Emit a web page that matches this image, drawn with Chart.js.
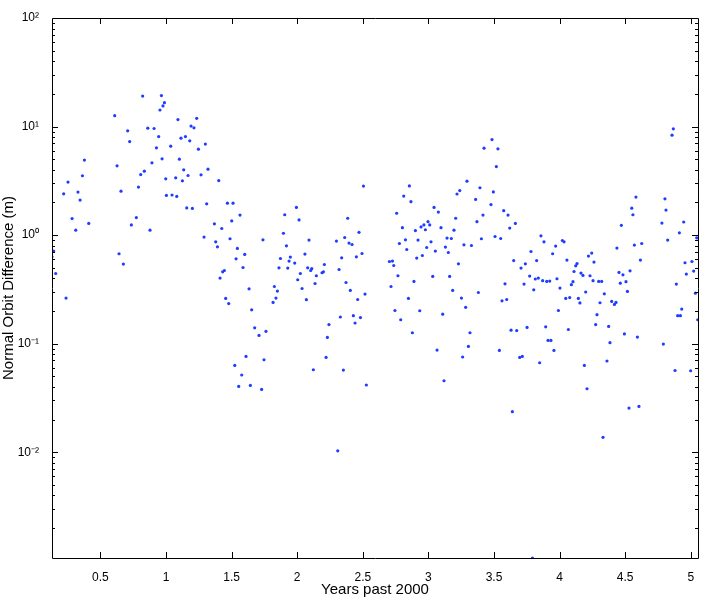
<!DOCTYPE html>
<html>
<head>
<meta charset="utf-8">
<script src="https://cdn.jsdelivr.net/npm/chart.js@4.4.1/dist/chart.umd.min.js"></script>
<style>
  html, body { margin: 0; padding: 0; background: #fff; }
  #orbitChart { display: block; }
</style>
</head>
<body>
<canvas id="orbitChart" width="708" height="599"></canvas>
<script>
// Orbit differences (years past 2000, metres)
const years = [
  0.822, 0.609, 0.708, 0.861, 0.909, 0.723, 0.378, 0.627, 0.893, 0.835,
  0.807, 0.253, 0.363, 0.790, 0.220, 0.329, 0.657, 0.345, 0.774, 0.284,
  0.411, 0.312, 0.736, 0.878, 0.144, 0.131, 0.642, 0.675, 0.159, 0.238,
  0.965, 0.988, 0.977, 0.954, 1.091, 1.234, 1.191, 1.213, 0.944, 1.148,
  1.114, 1.181, 1.300, 1.036, 0.927, 1.247, 0.970, 1.102, 1.320, 1.135,
  1.267, 1.168, 0.998, 1.074, 1.125, 1.402, 1.003, 1.046, 1.082, 1.158,
  1.201, 1.310, 1.468, 1.511, 1.564, 1.369, 1.501, 1.425, 1.290, 1.488,
  1.379, 1.739, 1.392, 1.544, 1.600, 1.534, 1.587, 1.445, 1.432, 1.412,
  1.633, 1.455, 1.478, 1.653,
  1.676, 1.709, 1.610, 1.747, 1.524, 1.577, 1.554, 1.643, 1.729,
  2.505, 1.994, 1.905, 2.014, 2.385, 1.895, 2.471, 2.090, 2.299, 2.362,
  2.395, 2.418, 1.918, 2.059, 2.494, 2.451, 2.339, 1.872, 1.948, 1.938,
  1.981, 2.207, 1.861, 1.928, 2.080, 2.111, 2.103, 2.189, 2.200, 2.319,
  2.024, 2.146, 2.004, 2.372, 2.136, 1.826, 1.849, 2.037, 2.405, 2.517,
  1.838, 2.070, 2.461, 1.816, 2.329, 2.428, 2.482,
  1.762, 2.242, 2.441, 2.230, 2.220, 2.123, 2.352, 2.527, 2.309,
  3.424, 3.294, 2.855, 3.393, 3.239, 3.218, 2.812, 3.360, 2.867, 3.043,
  3.076, 2.758, 3.416, 3.208, 3.370, 2.997, 2.966, 3.010, 2.944, 2.802,
  3.096, 2.901, 2.977, 3.195, 3.142, 3.175, 3.404, 2.825, 2.921, 3.020,
  2.779, 3.271, 3.328, 2.987, 3.130, 2.835, 3.053, 3.152, 2.954, 2.911,
  2.703, 2.726, 2.736, 3.229, 2.768, 3.033, 3.162, 2.890, 2.715, 3.185,
  3.381, 2.848, 3.252, 3.284, 2.745, 2.934, 3.109, 2.789,
  2.878, 3.317, 3.305, 3.066, 3.261, 3.119,
  3.485, 3.530, 3.518, 3.495, 3.477, 3.574, 3.607, 3.663, 3.620, 3.858,
  3.508, 3.551, 3.881, 4.021, 4.034, 3.970, 3.782, 3.947, 4.245, 4.220,
  4.056, 3.650, 3.825, 4.262, 3.739, 4.133, 4.123, 3.706, 4.110, 4.163,
  4.178, 4.232, 3.772, 3.838, 3.815, 3.980, 3.871, 3.902, 3.925, 4.102,
  4.255, 3.584, 3.729, 4.090, 4.003, 3.803, 4.199, 4.047, 4.077, 4.143,
  3.597, 3.561, 4.155, 3.991,
  3.630, 3.673, 3.752, 3.894, 4.067, 3.912, 3.934, 3.541, 3.957, 3.696,
  3.716, 3.848, 4.189, 4.209, 3.640, 3.793,
  4.867, 4.857, 4.582, 4.803, 4.550, 4.811, 4.559, 4.780, 4.946, 4.471,
  4.913, 5.045, 4.824, 4.626, 4.570, 4.437, 4.616, 5.009, 4.956, 4.537,
  4.453, 5.022, 4.483, 4.966, 4.298, 4.321, 4.463, 4.506, 4.890, 4.517,
  4.341, 5.035, 4.308, 4.397, 4.430, 4.418, 4.931, 4.285, 4.900, 4.921,
  5.053,
  4.275, 4.374, 4.494, 4.593, 4.384, 4.791, 4.361, 4.880, 4.999, 4.529,
  4.605, 4.331
];
const diffs = [
  19.1, 12.6, 9.13, 9.67, 9.59, 7.27, 4.91, 4.35, 4.63, 3.88,
  3.61, 3.08, 3.52, 2.77, 2.40, 2.49, 2.54, 2.10, 1.45, 1.42,
  1.28, 1.11, 1.24, 1.11, 0.712, 0.631, 0.673, 0.541, 0.443, 0.263,
  19.3, 16.6, 15.5, 14.2, 11.6, 11.9, 10.1, 9.73, 8.09, 8.09,
  7.82, 7.39, 6.89, 6.60, 6.37, 6.19, 5.04, 5.01, 4.05, 3.99,
  3.59, 3.54, 3.30, 3.37, 3.16, 3.18, 2.32, 2.34, 2.27, 1.78,
  1.76, 1.94, 1.97, 1.97, 1.53, 1.27, 1.35, 1.15, 0.958, 0.925,
  0.867, 0.905, 0.780, 0.753, 0.663, 0.605, 0.503, 0.472, 0.459, 0.402,
  0.320, 0.261, 0.234, 0.205,
  0.140, 0.119, 0.0762, 0.0711, 0.063, 0.0514, 0.0404, 0.0412, 0.0379,
  2.83, 1.80, 1.54, 1.38, 1.43, 1.04, 1.06, 0.899, 0.881, 0.950,
  0.844, 0.819, 0.797, 0.668, 0.677, 0.631, 0.618, 0.609, 0.627, 0.576,
  0.552, 0.536, 0.500, 0.497, 0.500, 0.492, 0.472, 0.450, 0.459, 0.482,
  0.443, 0.422, 0.388, 0.366, 0.358, 0.336, 0.305, 0.322, 0.309, 0.286,
  0.263, 0.254, 0.255, 0.240, 0.176, 0.181, 0.174,
  0.130, 0.150, 0.155, 0.114, 0.0746, 0.0575, 0.0571, 0.0416, 0.0103,
  6.32, 3.14, 2.84, 2.73, 2.57, 2.39, 2.29, 2.13, 2.03, 1.80,
  1.63, 1.59, 1.53, 1.43, 1.33, 1.33, 1.24, 1.24, 1.19, 1.17,
  1.17, 1.10, 1.12, 1.11, 0.938, 0.930, 0.925, 0.905, 0.899, 0.867,
  0.837, 0.814, 0.802, 0.769, 0.776, 0.737, 0.712, 0.691, 0.649, 0.614,
  0.571, 0.576, 0.525, 0.544, 0.422, 0.416, 0.416, 0.374, 0.336, 0.309,
  0.296, 0.261, 0.263, 0.216, 0.202, 0.201, 0.187, 0.166,
  0.126, 0.126, 0.0942, 0.0873, 0.0753, 0.0455,
  7.59, 6.23, 4.28, 2.50, 1.91, 1.68, 1.53, 1.28, 1.16, 0.985,
  0.971, 0.930, 0.867, 0.892, 0.867, 0.792, 0.706, 0.673, 0.683, 0.641,
  0.589, 0.583, 0.583, 0.564, 0.544, 0.547, 0.521, 0.497, 0.462, 0.447,
  0.425, 0.422, 0.419, 0.402, 0.394, 0.396, 0.380, 0.374, 0.377, 0.372,
  0.380, 0.356, 0.354, 0.349, 0.325, 0.313, 0.299, 0.261, 0.266, 0.261,
  0.255, 0.248, 0.237, 0.202,
  0.133, 0.132, 0.141, 0.143, 0.135, 0.107, 0.107, 0.0866, 0.0866, 0.0746,
  0.0762, 0.0667, 0.0630, 0.0384, 0.0236, 0.00106,
  9.52, 8.33, 2.24, 2.16, 1.77, 1.70, 1.54, 1.29, 1.32, 1.23,
  1.05, 0.944, 0.899, 0.837, 0.809, 0.759, 0.589, 0.571, 0.556, 0.469,
  0.453, 0.466, 0.431, 0.437, 0.374, 0.374, 0.361, 0.372, 0.354, 0.303,
  0.288, 0.292, 0.238, 0.245, 0.240, 0.230, 0.208, 0.185, 0.181, 0.181,
  0.166,
  0.150, 0.144, 0.123, 0.115, 0.102, 0.0991, 0.0692, 0.0566, 0.0563, 0.0255,
  0.0264, 0.0137
];

// tick labels
const xTicks = [0.5, 1, 1.5, 2, 2.5, 3, 3.5, 4, 4.5, 5];
const yTicks = [0.01, 0.1, 1, 10, 100];
const yTickLabels = ['10\u207B\u00B2', '10\u207B\u00B9', '10\u2070', '10\u00B9', '10\u00B2'];

const family = "'Liberation Sans', Arial, Helvetica, sans-serif";
const tickFont = { family: family, size: 12 };
const titleFont = { family: family, size: 15 };

// matlab style box with inward ticks
const boxTicks = {
  id: 'boxTicks',
  afterDraw(chart) {
    const ctx = chart.ctx;
    const a = chart.chartArea;
    const xs = chart.scales.x, ys = chart.scales.y;
    ctx.save();
    ctx.strokeStyle = '#000';
    ctx.lineWidth = 1;
    ctx.beginPath();
    ctx.rect(Math.round(a.left) + 0.5, Math.round(a.top) + 0.5,
      Math.round(a.right - a.left), Math.round(a.bottom - a.top));
    xTicks.forEach(v => {
      const px = Math.round(xs.getPixelForValue(v)) + 0.5;
      ctx.moveTo(px, a.bottom); ctx.lineTo(px, a.bottom - 6);
      ctx.moveTo(px, a.top); ctx.lineTo(px, a.top + 6);
    });
    for (let e = -3; e <= 1; e++) {
      for (let k = 1; k <= 9; k++) {
        const v = k * Math.pow(10, e);
        if (v < ys.min || v > ys.max) continue;
        const len = k === 1 ? 6 : 3;
        const py = Math.round(ys.getPixelForValue(v)) + 0.5;
        ctx.moveTo(a.left, py); ctx.lineTo(a.left + len, py);
        ctx.moveTo(a.right, py); ctx.lineTo(a.right - len, py);
      }
    }
    ctx.stroke();
    ctx.restore();
  }
};

const ctx = document.getElementById('orbitChart');
new Chart(ctx, {
  type: 'scatter',
  data: {
    datasets: [{
      data: years.map((x, i) => ({ x: x, y: diffs[i] })),
      pointRadius: 1.6,
      pointBorderWidth: 0,
      pointBackgroundColor: '#1f3dff',
      pointBorderColor: '#1f3dff'
    }]
  },
  options: {
    responsive: false,
    animation: false,
    devicePixelRatio: 1,
    layout: { padding: { top: 18, right: 10, left: 0, bottom: 0 } },
    plugins: {
      legend: { display: false },
      tooltip: { enabled: false }
    },
    scales: {
      x: {
        type: 'linear',
        min: 0.131,
        max: 5.055,
        grid: { display: false },
        border: { display: false },
        afterBuildTicks: s => { s.ticks = xTicks.map(v => ({ value: v })); },
        afterFit: s => { s.height = 41; },
        ticks: { font: tickFont, color: '#000', padding: 4, maxRotation: 0, autoSkip: false,
          callback: v => String(v) },
        title: { display: true, text: 'Years past 2000', font: titleFont, color: '#000', padding: { top: 0, bottom: 0 } }
      },
      y: {
        type: 'logarithmic',
        min: 0.00106,
        max: 100,
        grid: { display: false },
        border: { display: false },
        afterBuildTicks: s => { s.ticks = yTicks.map(v => ({ value: v })); },
        afterFit: s => { s.width = 52; },
        ticks: {
          font: tickFont, color: '#000', padding: 5, autoSkip: false,
          callback: v => yTickLabels[yTicks.indexOf(v)] || ''
        },
        title: { display: true, text: 'Normal Orbit Difference (m)', font: titleFont, color: '#000', padding: { top: 0, bottom: 0 } }
      }
    }
  },
  plugins: [boxTicks]
});
</script>
</body>
</html>
